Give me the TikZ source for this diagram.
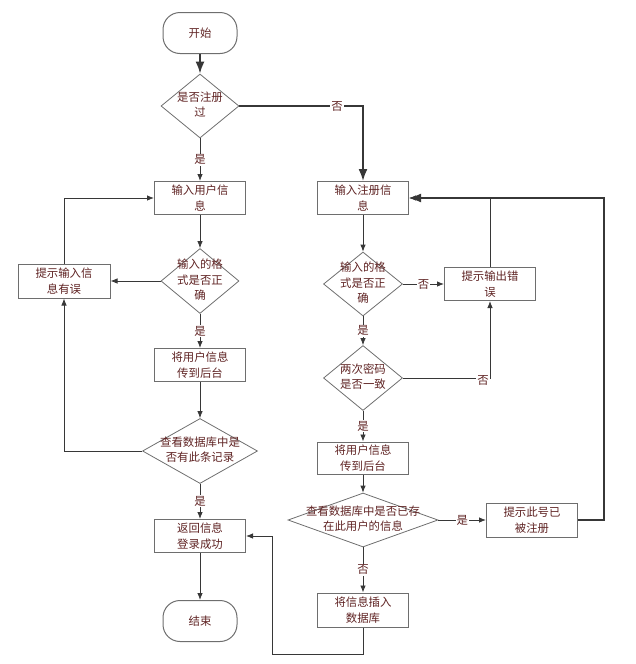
\documentclass[tikz,border=0pt]{standalone}
\usepackage{fontspec}
\setmainfont{Noto Sans CJK SC}
\usetikzlibrary{shapes.geometric,arrows.meta}
\definecolor{txtred}{RGB}{95,35,35}
\definecolor{boxgray}{RGB}{110,110,110}
\definecolor{linegray}{RGB}{55,55,55}
\tikzset{
    block/.style = {draw=boxgray, line width=1pt, rectangle, fill=white,
        minimum height=33pt, minimum width=91pt, inner sep=0pt, align=center},
    term/.style = {draw=boxgray, line width=1pt, rectangle, rounded corners=17pt,
        minimum height=41pt, minimum width=74pt},
    decision/.style = {draw=boxgray, line width=0.8pt, diamond,
        minimum width=78pt, minimum height=64pt, inner sep=0pt},
    arrow/.style = {draw=linegray, line width=0.8pt, -{Latex[length=7pt,width=5.5pt]}},
    bold/.style = {draw=linegray, line width=1.8pt, -{Latex[length=12pt,width=9pt]}},
    lbl/.style = {fill=white, inner sep=1pt}
}
\newcommand{\dtext}[1]{\makebox[0pt]{\begin{tabular}{@{}c@{}}#1\end{tabular}}}

\begin{document}
\begin{tikzpicture}[x=1pt, y=-1pt,
    every node/.style={font=\fontsize{11.4}{15.7}\selectfont, text=txtred}]
    \useasboundingbox (0,0) rectangle (636,664);
    % left column: login
    \node [term] (start) at (200,33) {开始};
    \node [decision] (isreg) at (200,106) {\dtext{是否注册\\过}};
    \node [block] (inuser) at (200,198) {输入用户信\\息};
    \node [decision, minimum height=65pt] (chkfmt) at (200,281) {\dtext{输入的格\\式是否正\\确}};
    \node [block, minimum width=92pt, minimum height=34pt] (fmterr) at (64,281) {提示输入信\\息有误};
    \node [block] (senduser) at (200,365) {将用户信息\\传到后台};
    \node [decision, minimum width=115pt, minimum height=65pt] (chkdb) at (200,451) {\dtext{查看数据库中是\\否有此条记录}};
    \node [block] (loginok) at (200,536) {返回信息\\登录成功};
    \node [term] (finish) at (200,621) {结束};
    % right column: register
    \node [block] (inreg) at (363,198) {输入注册信\\息};
    \node [decision, minimum width=79pt] (regfmt) at (363,284) {\dtext{输入的格\\式是否正\\确}};
    \node [block] (outerr) at (490,284) {提示输出错\\误};
    \node [decision, minimum width=79pt, minimum height=65pt] (chkpwd) at (363,378) {\dtext{两次密码\\是否一致}};
    \node [block, minimum height=32pt] (sendreg) at (363,458) {将用户信息\\传到后台};
    \node [decision, minimum width=150pt, minimum height=54pt] (chkexist) at (363,520) {\dtext{查看数据库中是否已存\\在此用户的信息}};
    \node [block, minimum height=34pt] (taken) at (532,520) {提示此号已\\被注册};
    \node [block, minimum height=34pt] (insert) at (363,610) {将信息插入\\数据库};
    \coordinate (back) at (272,654);

    \draw [bold] (start) -- (isreg);
    \draw [arrow] (isreg) -- node[lbl] {是} (inuser);
    \draw [bold] (isreg.east) -| node[lbl, pos=0.395] {否} (inreg.north);
    \draw [arrow] (inuser) -- (chkfmt);
    \draw [arrow] (chkfmt.west) -- (fmterr.east);
    \draw [arrow] (fmterr.north) |- (inuser.west);
    \draw [arrow] (chkfmt) -- node[lbl] {是} (senduser);
    \draw [arrow] (senduser) -- (chkdb);
    \draw [arrow] (chkdb.west) -| (fmterr.south);
    \draw [arrow] (chkdb) -- node[lbl] {是} (loginok);
    \draw [arrow] (loginok) -- (finish);

    \draw [arrow] (inreg) -- (regfmt);
    \draw [arrow] (regfmt) -- node[lbl] {否} (outerr);
    \draw [arrow] (outerr.north) |- (inreg.east);
    \draw [arrow] (regfmt) -- node[lbl] {是} (chkpwd);
    \draw [arrow] (chkpwd.east) -| node[lbl, pos=0.46, yshift=-2pt] {否} (outerr.south);
    \draw [arrow] (chkpwd) -- node[lbl] {是} (sendreg);
    \draw [arrow] (sendreg) -- (chkexist);
    \draw [arrow] (chkexist) -- node[lbl] {是} (taken);
    \draw [bold] (taken.east) -- ++(26,0) |- (inreg.east);
    \draw [arrow] (chkexist) -- node[lbl] {否} (insert);
    \draw [arrow] (insert.south) |- (back) |- (loginok.east);
\end{tikzpicture}
\end{document}
